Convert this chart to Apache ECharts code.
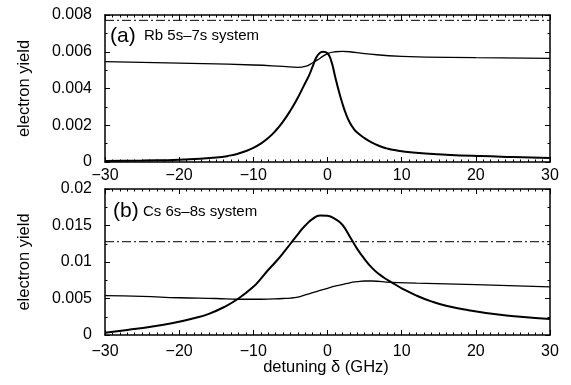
<!DOCTYPE html>
<html>
<head>
<meta charset="utf-8">
<script src="https://cdn.jsdelivr.net/npm/echarts@6/dist/echarts.min.js"></script>
<style>
  html, body { margin: 0; padding: 0; background: #fff; }
  #chart { width: 571px; height: 385px; }
</style>
</head>
<body>
<div id="chart"></div>
<script>
// tick labels
const xTickLabels = ['\u221230', '\u221220', '\u221210', '0', '10', '20', '30']
const yTicksRb = ['0', '0.002', '0.004', '0.006', '0.008']
const yTicksCs = ['0', '0.005', '0.01', '0.015', '0.02']

// (a) Rb 5s-7s: resonant peak curve
const rbPeakX = [-30, -25, -20, -15, -13, -12, -11, -10, -9, -8, -7, -6, -5, -4, -3.5, -3, -2.5, -2, -1.5, -1, -0.6, 0, 0.5, 1, 1.5, 2, 2.5, 3, 3.5, 4, 5, 6, 7, 8, 9, 11.5, 16, 20.6, 25, 30]
const rbPeakY = [0.00005, 0.00008, 0.00012, 0.00024, 0.00036, 0.00046, 0.0006, 0.00077, 0.001, 0.0013, 0.0017, 0.0022, 0.0028, 0.0035, 0.0039, 0.0043, 0.0047, 0.0052, 0.0057, 0.00595, 0.0060, 0.00592, 0.0055, 0.0047, 0.0039, 0.0032, 0.0026, 0.00215, 0.00183, 0.0016, 0.0013, 0.00105, 0.00087, 0.00074, 0.00065, 0.00052, 0.0004, 0.00032, 0.00027, 0.00022]
// (a) broad curve
const rbFlatX = [-30, -20, -10, -6, -4, -3, -2, -1, 0, 1, 2, 3, 5, 10, 20, 30]
const rbFlatY = [0.00546, 0.00538, 0.00528, 0.0052, 0.00515, 0.0052, 0.0054, 0.00565, 0.0059, 0.006, 0.00602, 0.006, 0.0059, 0.00575, 0.00568, 0.00564]
const rbLevel = 0.00771

// (b) Cs 6s-8s: resonant peak curve
const csPeakX = [-30, -27, -24, -21, -18, -16, -14, -12, -10, -9, -8, -7, -6, -5, -4, -3, -2, -1, 0, 1, 2, 3, 4, 5, 6, 7, 8, 9, 10, 12, 14, 16, 19, 23, 26, 30]
const csPeakY = [0.0003, 0.0007, 0.0011, 0.0016, 0.0023, 0.0029, 0.0038, 0.0050, 0.0066, 0.0077, 0.0089, 0.0100, 0.0112, 0.0125, 0.0138, 0.0150, 0.0159, 0.01638, 0.01632, 0.0159, 0.0151, 0.0135, 0.0118, 0.0104, 0.0092, 0.0083, 0.0076, 0.0070, 0.0064, 0.0054, 0.0046, 0.0040, 0.0034, 0.0028, 0.0025, 0.0022]
// (b) broad curve
const csFlatX = [-30, -25, -20, -15, -12, -9, -6, -5, -4, -3, -2, -1, 0, 1, 2, 3, 4, 5, 6, 8.5, 12, 20, 30]
const csFlatY = [0.0054, 0.0053, 0.0051, 0.0050, 0.0049, 0.0049, 0.0050, 0.00505, 0.0052, 0.0055, 0.0058, 0.0061, 0.0064, 0.0067, 0.0069, 0.00715, 0.0073, 0.0074, 0.0074, 0.0072, 0.0071, 0.0069, 0.0066]
const csLevel = 0.01278

const FONT = '"Liberation Sans", Arial, Helvetica, sans-serif'
const pairs = (xs, ys) => xs.map((x, i) => [x, ys[i]])

const frameLine = { show: true, onZero: false, lineStyle: { color: '#000', width: 1.5 } }
const majorTick = { inside: true, length: 5, lineStyle: { color: '#000', width: 1 } }

function xAxes(gridIndex, labelMargin) {
  const common = {
    type: 'value', gridIndex, min: -30, max: 30, interval: 10,
    axisLine: frameLine, axisTick: majorTick,
    minorTick: { show: true, splitNumber: 10, length: 2.5, lineStyle: { color: '#000', width: 1 } },
    splitLine: { show: false },
  }
  return [
    { ...common, position: 'bottom',
      axisLabel: { color: '#000', fontSize: 16, fontFamily: FONT, margin: labelMargin,
        formatter: (v, i) => xTickLabels[i] } },
    { ...common, position: 'top', axisLabel: { show: false } },
  ]
}

function yAxes(gridIndex, max, interval, labels) {
  const common = {
    type: 'value', gridIndex, min: 0, max, interval,
    axisLine: frameLine, axisTick: majorTick,
    minorTick: { show: true, splitNumber: 2, length: 2.5, lineStyle: { color: '#000', width: 1 } },
    splitLine: { show: false },
  }
  return [
    { ...common, position: 'left',
      name: 'electron yield', nameLocation: 'middle', nameRotate: 90, nameGap: 72,
      nameTextStyle: { color: '#000', fontSize: 16.5, fontFamily: FONT },
      axisLabel: { color: '#000', fontSize: 16, fontFamily: FONT, margin: 13,
        formatter: (v, i) => labels[i] } },
    { ...common, position: 'right', axisLabel: { show: false } },
  ]
}

function curve(xAxisIndex, yAxisIndex, data, width) {
  return {
    type: 'line', xAxisIndex, yAxisIndex, data, smooth: 0.5, symbol: 'none',
    lineStyle: { color: '#000', width }, silent: true, animation: false,
  }
}

function level(xAxisIndex, yAxisIndex, y) {
  return {
    type: 'line', xAxisIndex, yAxisIndex, data: [[-30, y], [30, y]], symbol: 'none',
    lineStyle: { color: '#000', width: 1, type: [9, 3, 2, 3] }, silent: true, animation: false,
  }
}

function label(x, y, text, size) {
  return { type: 'text', x, y, style: {
    text, fontSize: size, fontFamily: FONT, fill: '#000', verticalAlign: 'middle' } }
}

const chart = echarts.init(document.getElementById('chart'), null, { renderer: 'canvas' })
chart.setOption({
  backgroundColor: '#fff',
  animation: false,
  grid: [
    { left: 105, right: 21, top: 15, height: 147 },
    { left: 105, right: 21, top: 189, height: 146 },
  ],
  xAxis: [...xAxes(0, 6), ...xAxes(1, 9)],
  yAxis: [...yAxes(0, 0.008, 0.002, yTicksRb), ...yAxes(1, 0.02, 0.005, yTicksCs)],
  graphic: [
    label(110, 36, '(a)', 21),
    label(144, 36, 'Rb 5s\u20137s system', 15),
    label(113, 211.5, '(b)', 21),
    label(143, 211.5, 'Cs 6s\u20138s system', 15),
    { type: 'text', x: 326, y: 367, style: {
      text: 'detuning \u03b4 (GHz)', fontSize: 16.5, fontFamily: FONT, fill: '#000',
      align: 'center', verticalAlign: 'middle' } },
  ],
  series: [
    level(0, 0, rbLevel),
    curve(0, 0, pairs(rbFlatX, rbFlatY), 1.3),
    curve(0, 0, pairs(rbPeakX, rbPeakY), 2),
    level(2, 2, csLevel),
    curve(2, 2, pairs(csFlatX, csFlatY), 1.3),
    curve(2, 2, pairs(csPeakX, csPeakY), 2),
  ],
})
</script>
</body>
</html>
